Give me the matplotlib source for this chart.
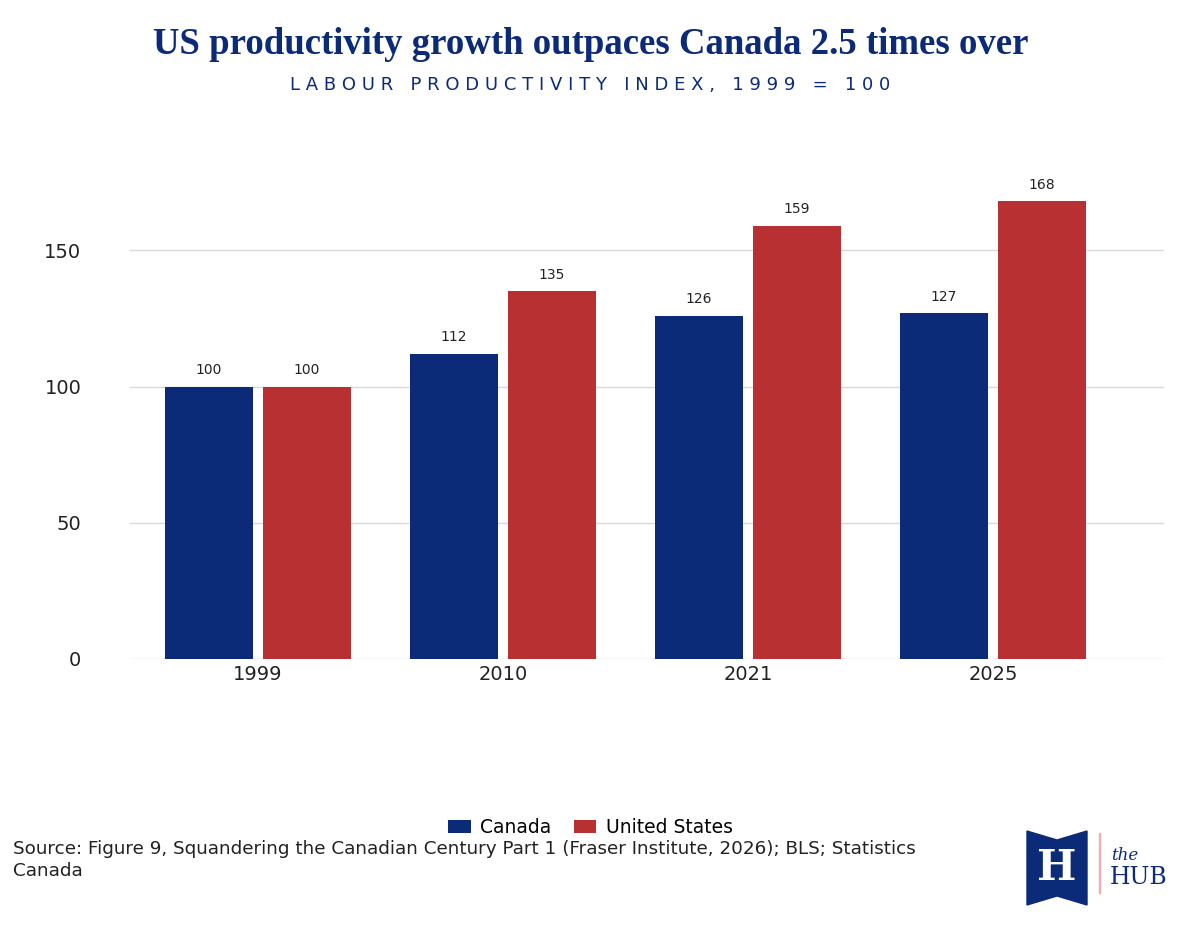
import matplotlib
matplotlib.use("Agg")
import matplotlib.pyplot as plt
import numpy as np
from matplotlib.patches import Polygon, Rectangle

years = ["1999", "2010", "2021", "2025"]
canada = [100, 112, 126, 127]
us = [100, 135, 159, 168]
navy = "#0b2a78"
red = "#b83032"

fig = plt.figure(figsize=(11.81, 9.25), dpi=100)
ax = fig.add_axes([0.110, 0.2876, 0.876, 0.53])
x = np.arange(len(years))
w = 0.36
b1 = ax.bar(x - 0.2, canada, w, color=navy, label="Canada")
b2 = ax.bar(x + 0.2, us, w, color=red, label="United States")
for bars, vals in ((b1, canada), (b2, us)):
    for r, v in zip(bars, vals):
        ax.text(r.get_x() + r.get_width() / 2, v + 3.5, f"{v}", ha="center", va="bottom",
                fontsize=10, color="#222222")
ax.set_xlim(-0.522, 3.70)
ax.set_ylim(0, 180)
ax.set_yticks([0, 50, 100, 150])
ax.set_xticks(x)
ax.set_xticklabels(years)
ax.yaxis.grid(True, color="#d9d9d9", lw=1)
ax.set_axisbelow(True)
for s in ax.spines.values():
    s.set_visible(False)
ax.tick_params(length=0, labelsize=14, colors="#222222")
ax.tick_params(axis="y", pad=35)
ax.tick_params(axis="x", pad=4)

fig.text(0.5, 0.952, "US productivity growth outpaces Canada 2.5 times over", ha="center", va="center",
         fontsize=26.5, color=navy, family="Liberation Serif", weight="bold")
fig.text(0.5, 0.908, "L A B O U R   P R O D U C T I V I T Y   I N D E X ,   1 9 9 9   =   1 0 0", ha="center",
         va="center", fontsize=13, color=navy)

leg = fig.legend(handles=[b1, b2], loc="center", bbox_to_anchor=(0.5, 0.105), ncol=2, frameon=False,
                 fontsize=13.5, handlelength=1.2, handleheight=0.7, columnspacing=1.2, handletextpad=0.5)
fig.text(0.011, 0.07, "Source: Figure 9, Squandering the Canadian Century Part 1 (Fraser Institute, 2026); BLS; Statistics\nCanada",
         ha="left", va="center", fontsize=13.2, color="#222222", linespacing=1.3)

# logo
W, H = 1181, 925
def fx(px): return px / W
def fy(py): return 1 - py / H
banner = [(1027, 831), (1057, 840), (1087, 831), (1087, 905), (1057, 896), (1027, 905)]
fig.patches.append(Polygon([(fx(a), fy(b)) for a, b in banner], closed=True, transform=fig.transFigure,
                           color=navy))
fig.text(fx(1057), fy(868), "H", ha="center", va="center", fontsize=30, color="white",
         family="DejaVu Serif", weight="bold")
fig.patches.append(Rectangle((fx(1099), fy(893)), 1 / W, 60 / H, transform=fig.transFigure, color="#e8b0b0"))
fig.text(fx(1111), fy(856), "the", ha="left", va="center", fontsize=12, color=navy, family="DejaVu Serif",
         style="italic")
fig.text(fx(1110), fy(877), "HUB", ha="left", va="center", fontsize=17, color=navy, family="DejaVu Serif")

fig.savefig("out.png", dpi=100, facecolor="white")
